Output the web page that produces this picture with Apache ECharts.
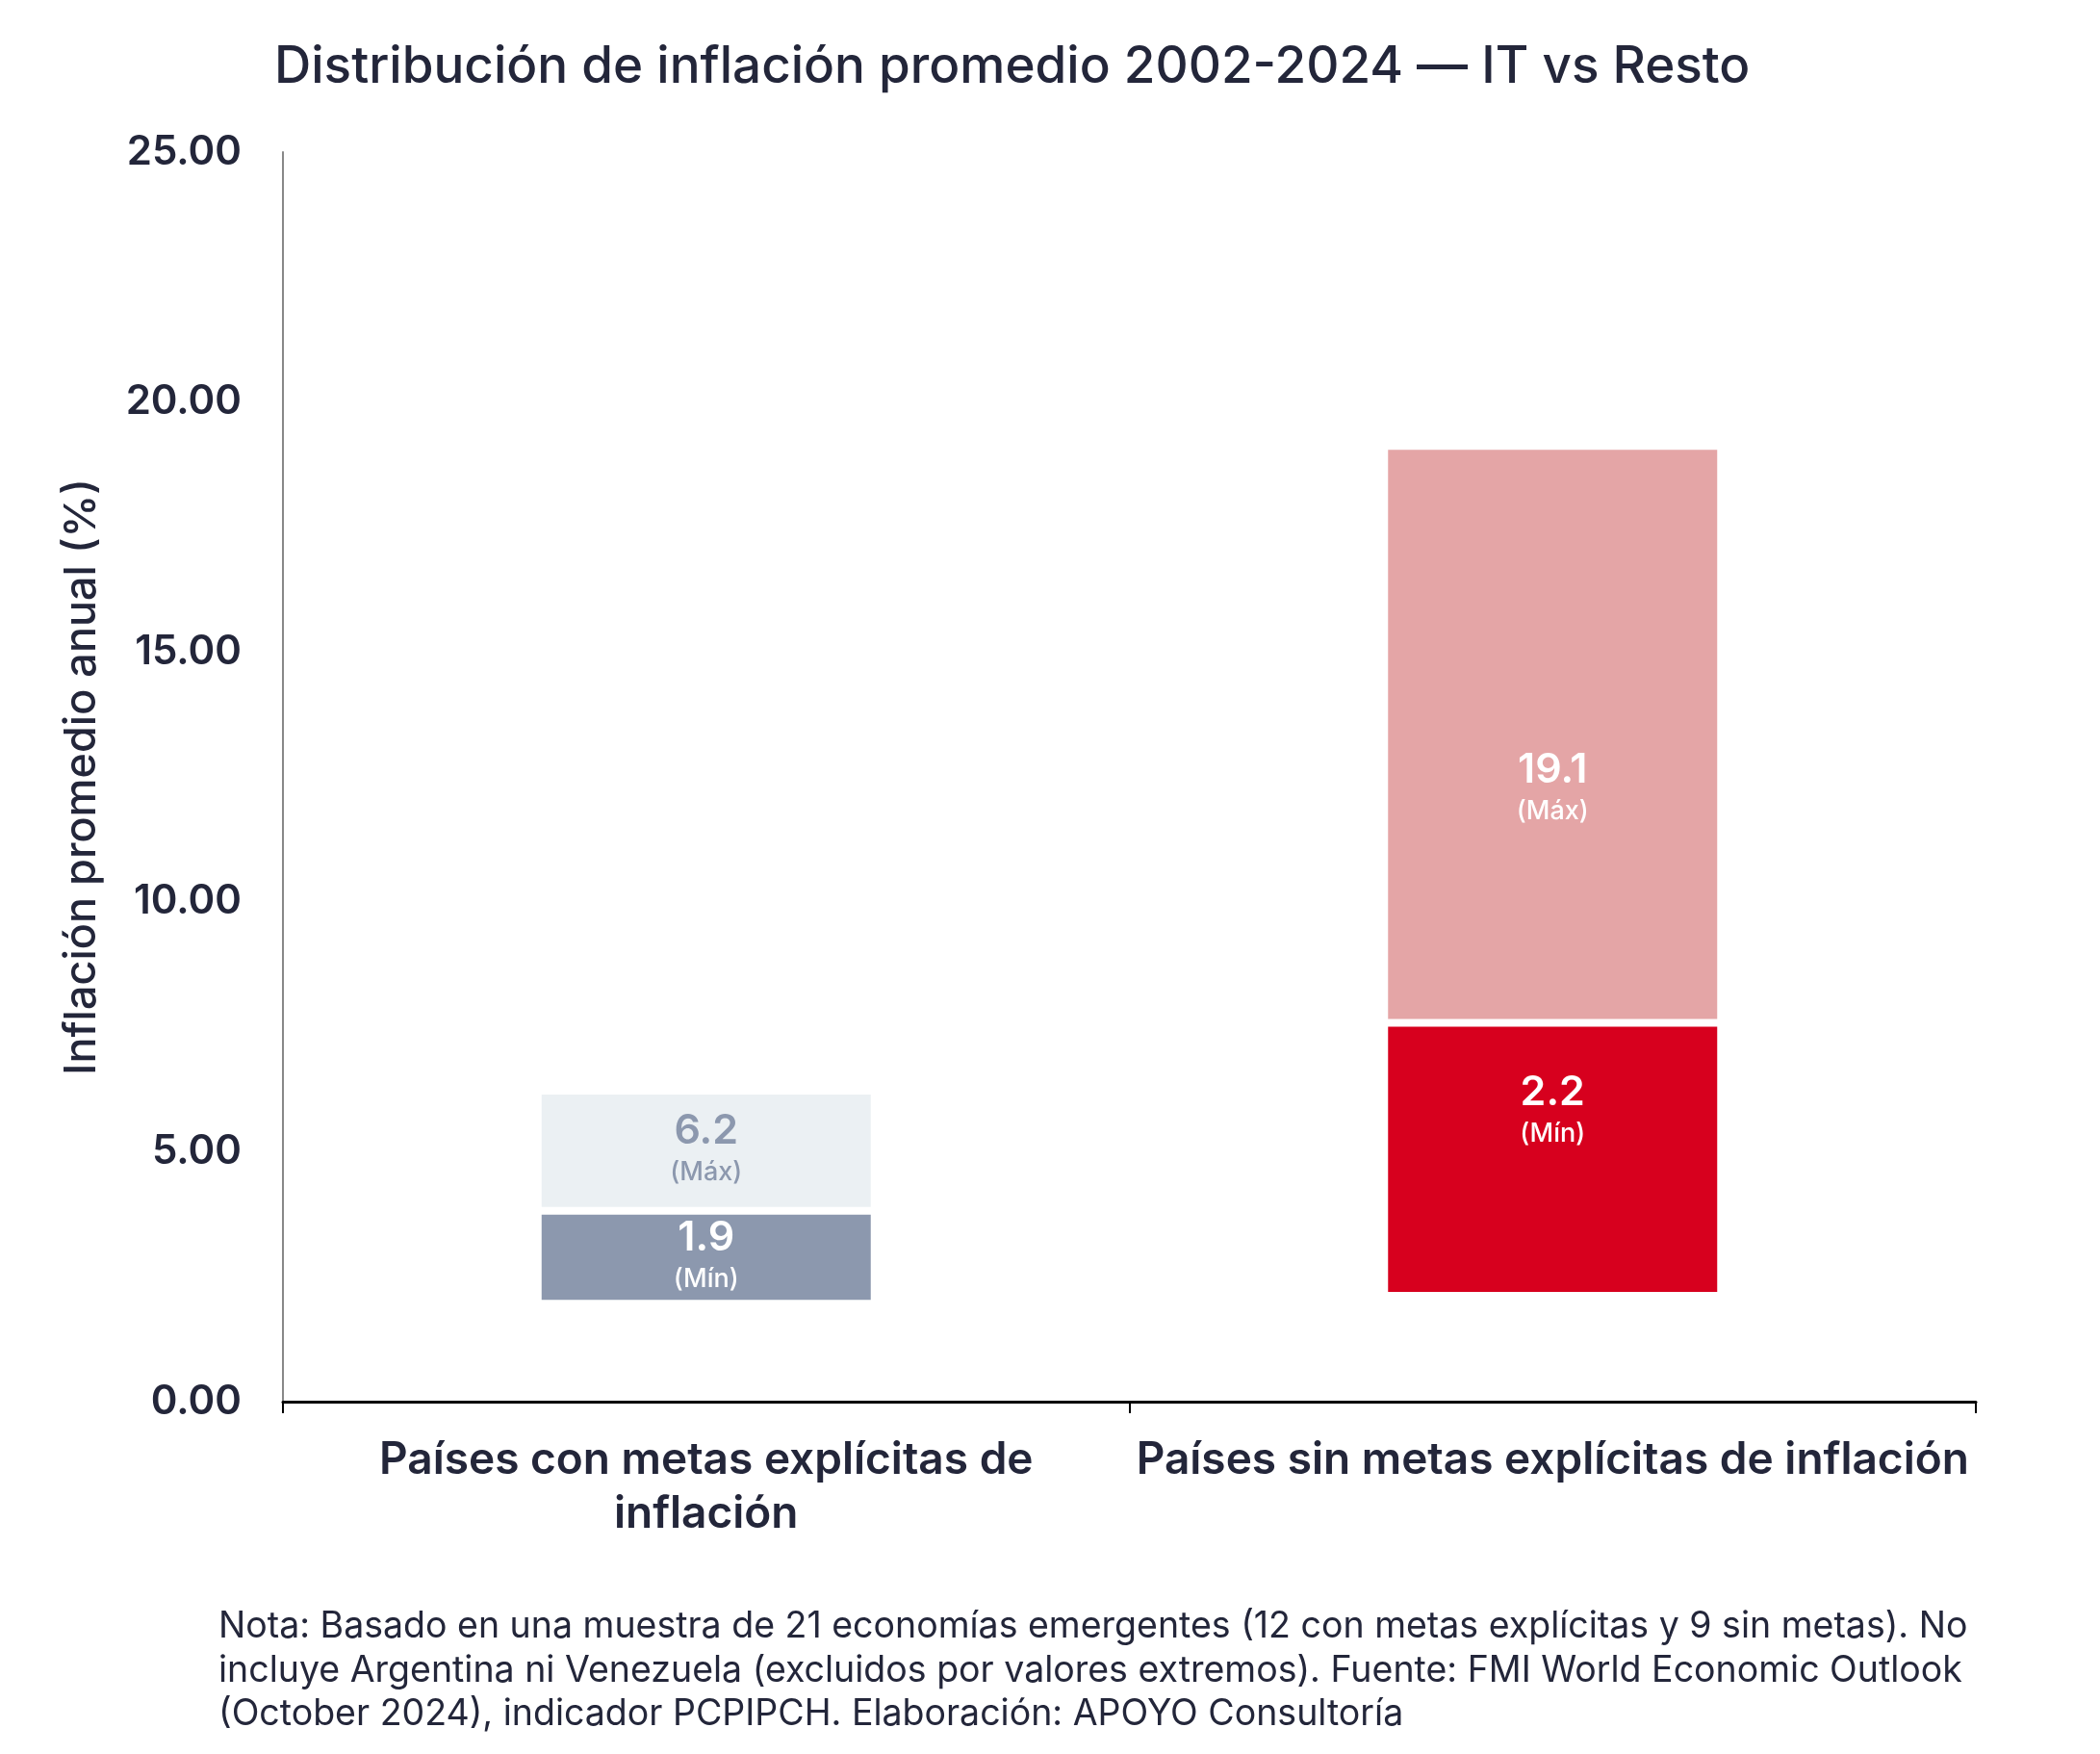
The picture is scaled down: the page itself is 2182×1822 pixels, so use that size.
<!DOCTYPE html>
<html>
<head>
<meta charset="utf-8">
<script src="https://cdn.jsdelivr.net/npm/echarts@6/dist/echarts.min.js"></script>
<style>
  html, body { margin: 0; padding: 0; background: #fff; }
  #chart { width: 2182px; height: 1822px; }
</style>
</head>
<body>
<div id="chart"></div>
<script>
// categorías del eje x
const categories = ['Países con metas explícitas de\ninflación', 'Países sin metas explícitas de inflación'];
// bordes de las barras (lectura del gráfico)
const barMin = [1.96, 2.12];
const barMid = [3.82, 7.58];
const barMax = [6.22, 19.12];
// etiquetas de texto
const minLabels = ['1.9', '2.2'];
const maxLabels = ['6.2', '19.1'];
const yTicks = [0, 5, 10, 15, 20, 25];

const lowColors = ['#8C98AE', '#D7001E'];
const highColors = ['#EBF0F3', '#E4A5A6'];
const highLabelColors = ['#8C98AE', '#ffffff'];
const lowOffsets = [[0, 0], [0, -49]];
const highOffsets = [[0, 0], [0, 57]];

const textColor = '#23263A';
const font = 'Inter';

const chart = echarts.init(document.getElementById('chart'));

const rich = {
  num: { fontSize: 43, fontWeight: 600, lineHeight: 46, fontFamily: font },
  sub: { fontSize: 27, fontWeight: 500, lineHeight: 40, fontFamily: font }
};

chart.setOption({
  animation: false,
  textStyle: { fontFamily: font, color: textColor },
  title: {
    text: 'Distribución de inflación promedio 2002-2024 — IT vs Resto',
    left: 280,
    top: 39,
    textStyle: { fontSize: 53, fontWeight: 500, color: textColor, fontFamily: font }
  },
  grid: { left: 294, right: 129, top: 158, bottom: 366 },
  xAxis: {
    type: 'category',
    data: categories,
    axisLine: { lineStyle: { color: '#000', width: 3 } },
    axisTick: { show: true, length: 12, lineStyle: { color: '#000', width: 2 } },
    axisLabel: {
      interval: 0,
      color: textColor, fontSize: 46, fontWeight: 600, lineHeight: 56,
      margin: 33, fontFamily: font
    }
  },
  yAxis: {
    type: 'value',
    min: yTicks[0],
    max: yTicks[yTicks.length - 1],
    interval: yTicks[1] - yTicks[0],
    name: 'Inflación promedio anual (%)',
    nameLocation: 'middle',
    nameGap: 186,
    nameRotate: 90,
    nameTextStyle: { fontSize: 45, fontWeight: 500, color: textColor, fontFamily: font },
    axisLine: { show: true, lineStyle: { color: '#888', width: 2 } },
    axisTick: { show: false },
    splitLine: { show: false },
    axisLabel: {
      color: textColor, fontSize: 42, fontWeight: 600, margin: 43, fontFamily: font,
      formatter: v => v.toFixed(2)
    }
  },
  series: [
    {
      type: 'bar',
      stack: 'rango',
      barWidth: 350,
      silent: true,
      itemStyle: { color: 'transparent' },
      data: barMin
    },
    {
      type: 'bar',
      stack: 'rango',
      barWidth: 350,
      itemStyle: { borderColor: '#fff', borderWidth: 4 },
      data: barMid.map((m, i) => ({
        value: +(m - barMin[i]).toFixed(3),
        itemStyle: { color: lowColors[i] },
        label: {
          show: true,
          position: 'inside',
          color: '#fff',
          offset: lowOffsets[i],
          formatter: '{num|' + minLabels[i] + '}\n{sub|(Mín)}',
          rich: rich
        }
      }))
    },
    {
      type: 'bar',
      stack: 'rango',
      barWidth: 350,
      itemStyle: { borderColor: '#fff', borderWidth: 4 },
      data: barMax.map((m, i) => ({
        value: +(m - barMid[i]).toFixed(3),
        itemStyle: { color: highColors[i] },
        label: {
          show: true,
          position: 'inside',
          color: highLabelColors[i],
          offset: highOffsets[i],
          formatter: '{num|' + maxLabels[i] + '}\n{sub|(Máx)}',
          rich: rich
        }
      }))
    }
  ],
  graphic: [{
    type: 'text',
    left: 227,
    top: 1667,
    style: {
      text: 'Nota: Basado en una muestra de 21 economías emergentes (12 con metas explícitas y 9 sin metas). No\n' +
        'incluye Argentina ni Venezuela (excluidos por valores extremos). Fuente: FMI World Economic Outlook\n' +
        '(October 2024), indicador PCPIPCH. Elaboración: APOYO Consultoría',
      font: '400 37.5px Inter',
      lineHeight: 45.5,
      fill: textColor
    }
  }]
});
</script>
</body>
</html>
